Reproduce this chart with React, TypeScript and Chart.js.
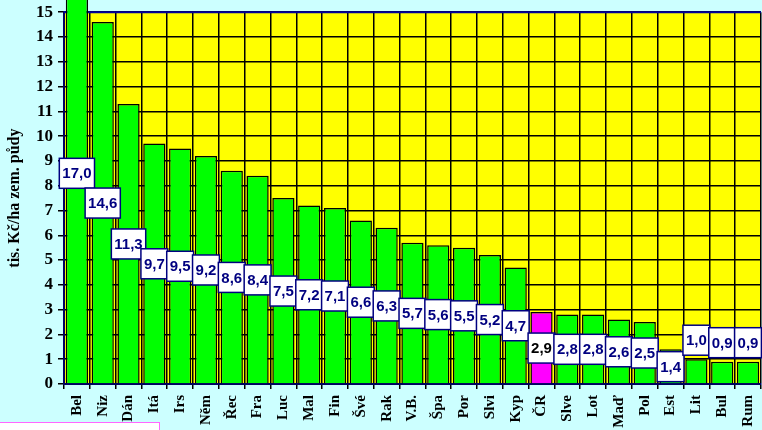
import React, { useEffect, useRef } from "react";
import { Chart, registerables } from "chart.js";

Chart.register(...registerables);

const categories = ["Bel", "Niz", "Dán", "Itá", "Irs", "Něm", "Řec", "Fra", "Luc", "Mal", "Fin", "Švé", "Rak", "V.B.", "Špa", "Por", "Slvi", "Kyp", "ČR", "Slve", "Lot", "Maď", "Pol", "Est", "Lit", "Bul", "Rum"];
const values = [17.0, 14.6, 11.3, 9.7, 9.5, 9.2, 8.6, 8.4, 7.5, 7.2, 7.1, 6.6, 6.3, 5.7, 5.6, 5.5, 5.2, 4.7, 2.9, 2.8, 2.8, 2.6, 2.5, 1.4, 1.0, 0.9, 0.9];
const highlight = "ČR";
const yTitle = "tis. Kč/ha zem. půdy";
const yMin = 0;
const yMax = 15;

const fmt = (v: number) => v.toFixed(1).replace(".", ",");

const bgPlugin = {
  id: "bgPlugin",
  beforeDraw(chart: any) {
    const { ctx, chartArea } = chart;
    ctx.save();
    ctx.fillStyle = "#ffff00";
    ctx.fillRect(chartArea.left, chartArea.top, chartArea.right - chartArea.left, chartArea.bottom - chartArea.top);
    ctx.restore();
  },
  beforeDatasetsDraw(chart: any) {
    const { ctx, chartArea } = chart;
    ctx.save();
    ctx.strokeStyle = "#0000a0";
    ctx.lineWidth = 2;
    ctx.beginPath();
    ctx.moveTo(chartArea.left, chartArea.top);
    ctx.lineTo(chartArea.right, chartArea.top);
    ctx.stroke();
    ctx.restore();
  },
};

const labelPlugin = {
  id: "labelPlugin",
  afterDatasetsDraw(chart: any) {
    const { ctx, chartArea } = chart;
    const meta = chart.getDatasetMeta(0);
    const yScale = chart.scales.y;
    ctx.save();
    ctx.font = "bold 15px 'Liberation Sans', Arial, sans-serif";
    ctx.textAlign = "center";
    ctx.textBaseline = "middle";
    const h = 30;
    meta.data.forEach((bar: any, i: number) => {
      const v = values[i];
      const text = fmt(v);
      const w = ctx.measureText(text).width + 6;
      let cy = yScale.getPixelForValue(v / 2);
      if (cy + h / 2 > chartArea.bottom) {
        cy = yScale.getPixelForValue(v) - 4 - h / 2;
      }
      const cx = bar.x;
      ctx.fillStyle = "#ffffff";
      ctx.fillRect(cx - w / 2, cy - h / 2, w, h);
      ctx.strokeStyle = "#000080";
      ctx.lineWidth = 1.5;
      ctx.strokeRect(cx - w / 2, cy - h / 2, w, h);
      ctx.fillStyle = categories[i] === highlight ? "#000000" : "#000080";
      ctx.fillText(text, cx, cy + 1);
    });
    ctx.restore();
  },
};

export default function App() {
  const ref = useRef<HTMLCanvasElement>(null);
  useEffect(() => {
    if (!ref.current) return;
    const chart = new Chart(ref.current, {
      type: "bar",
      data: {
        labels: categories,
        datasets: [
          {
            data: values,
            backgroundColor: categories.map((c) => (c === highlight ? "#ff00ff" : "#00ff00")),
            borderColor: "#000000",
            borderWidth: 1.5,
            barPercentage: 0.86,
            categoryPercentage: 1,
            clip: false as any,
          },
        ],
      },
      options: {
        animation: false,
        responsive: false,
        maintainAspectRatio: false,
        layout: { padding: { top: 0, right: 0, bottom: 0, left: 0 } },
        plugins: { legend: { display: false }, tooltip: { enabled: false }, title: { display: false } },
        scales: {
          x: {
            grid: { offset: true, color: "#000000", lineWidth: 1.5, tickLength: 5, drawOnChartArea: true },
            border: { color: "#000060", width: 2 },
            ticks: {
              color: "#000000",
              font: { family: "'Liberation Serif', 'Times New Roman', serif", size: 15, weight: "bold" },
              minRotation: 90,
              maxRotation: 90,
              autoSkip: false,
              padding: 6,
            },
            afterFit: (s: any) => {
              s.height = 46;
            },
          },
          y: {
            min: yMin,
            max: yMax,
            grid: { color: "#000000", lineWidth: 1.5, tickLength: 6 },
            border: { color: "#000060", width: 2 },
            ticks: {
              stepSize: 1,
              autoSkip: false,
              color: "#000000",
              padding: 5,
              font: { family: "'Liberation Serif', 'Times New Roman', serif", size: 17, weight: "bold", lineHeight: 1.2 },
            },
            title: {
              display: true,
              text: yTitle,
              color: "#000000",
              padding: { top: 5, bottom: 0 },
              font: { family: "'Liberation Serif', 'Times New Roman', serif", size: 16, weight: "bold" },
            },
            afterFit: (s: any) => {
              s.width = 64;
            },
          },
        },
      },
      plugins: [bgPlugin, labelPlugin],
    });
    return () => chart.destroy();
  }, []);

  return (
    <div style={{ position: "fixed", left: 0, top: 0, width: 762, height: 430, background: "#ccffff", overflow: "hidden" }}>
      <canvas
        ref={ref}
        width={772}
        height={433}
        style={{ display: "block", position: "absolute", left: 0, top: -3, width: 772, height: 433 }}
      />
      <div
        style={{
          position: "absolute",
          left: -2,
          top: 422,
          width: 160,
          height: 20,
          background: "#ffffff",
          border: "1.5px solid #ff66ff",
        }}
      />
    </div>
  );
}
